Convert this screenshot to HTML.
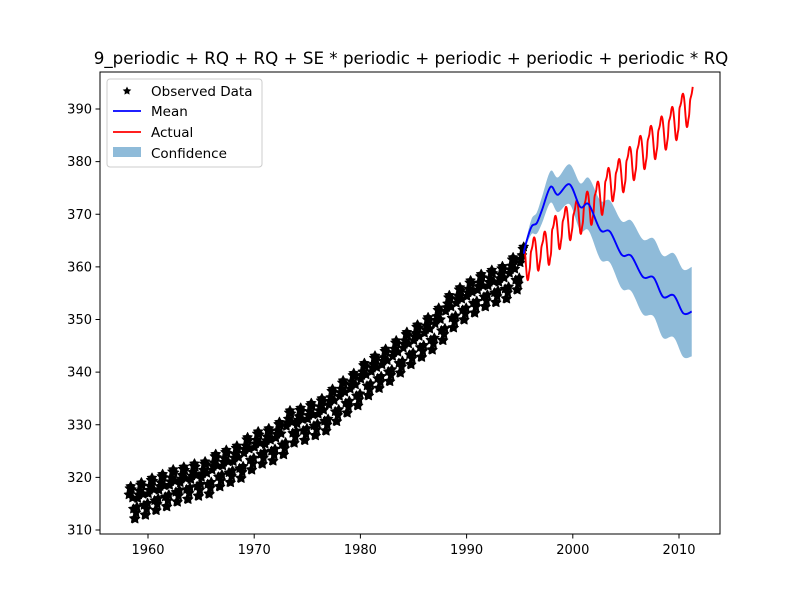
<!DOCTYPE html>
<html><head><meta charset="utf-8"><style>
body{margin:0;background:#fff;}
svg text{font-family:"DejaVu Sans","Liberation Sans",sans-serif;fill:#000;}
</style></head><body>
<svg id="chart" width="800" height="600" viewBox="0 0 800 600">
<rect x="0" y="0" width="800" height="600" fill="#fff"/>
<text x="411" y="64" text-anchor="middle" font-size="16.7">9_periodic + RQ + RQ + SE * periodic + periodic + periodic + periodic * RQ</text>
<g id="marks"></g>
<rect x="100" y="72" width="620" height="462" fill="none" stroke="#000" stroke-width="1"/>
<g id="axes"></g>
<g>
<rect x="107" y="79" width="155" height="88" rx="3" fill="#fff" fill-opacity="0.8" stroke="#ccc"/>
<g><polygon id="legstar" fill="#000"/><text x="151" y="96" font-size="13.5">Observed Data</text></g>
<g><line x1="113" y1="111" x2="141" y2="111" stroke="#0000ff" stroke-width="1.8"/><text x="151" y="116" font-size="13.5">Mean</text></g>
<g><line x1="113" y1="132" x2="141" y2="132" stroke="#ff0000" stroke-width="1.8"/><text x="151" y="137" font-size="13.5">Actual</text></g>
<g><rect x="113" y="147" width="28" height="10" fill="#8fbbd9"/><text x="151" y="158" font-size="13.5">Confidence</text></g>
</g>
</svg>
<script>
const annualYears=[1958,1959,1960,1961,1962,1963,1964,1965,1966,1967,1968,1969,1970,1971,1972,1973,1974,1975,1976,1977,1978,1979,1980,1981,1982,1983,1984,1985,1986,1987,1988,1989,1990,1991,1992,1993,1994,1995,1996,1997,1998,1999,2000,2001,2002,2003,2004,2005,2006,2007,2008,2009,2010,2011];
const annualMeans=[315.3,316.0,316.9,317.6,318.5,319.0,319.6,320.0,321.4,322.2,323.0,324.6,325.7,326.3,327.5,329.7,330.2,331.1,332.0,333.8,335.4,336.8,338.7,340.1,341.4,343.0,344.6,346.0,347.4,349.2,351.6,353.1,354.4,355.6,356.4,357.1,358.8,360.8,362.6,363.7,366.7,368.4,369.6,371.3,373.2,375.8,377.5,379.8,381.9,383.8,385.6,387.4,389.9,391.6];
const seasonal=[0.0,0.7,1.4,2.6,3.0,2.4,0.8,-1.3,-3.1,-3.2,-2.0,-0.9];
const meanYears=[1995.4,1995.5,1996.1,1996.6,1997.1,1997.9,1998.6,1999.7,2000.7,2001.5,2002.6,2003.5,2004.6,2005.5,2006.6,2007.6,2008.5,2009.5,2010.4,2011.2];
const meanValues=[362.5,363.8,367.6,368.3,370.8,375.2,373.7,375.7,371.4,371.9,367.0,366.7,362.3,362.1,358.1,358.0,354.3,354.6,351.2,351.5];
const stdValues=[0,0.3,1.4,2.0,2.5,3.0,3.3,3.8,4.5,5.0,5.6,5.9,6.4,6.7,7.1,7.4,7.8,8.0,8.3,8.5];
const xTicks=[1960,1970,1980,1990,2000,2010];
const yTicks=[310,320,330,340,350,360,370,380,390];

const NS='http://www.w3.org/2000/svg';
const xs=t=>148+(t-1960)*10.62;
const ys=v=>530-(v-310)*5.2625;
function el(tag,attrs,parent){const e=document.createElementNS(NS,tag);for(const k in attrs)e.setAttribute(k,attrs[k]);parent.appendChild(e);return e;}
function starPts(cx,cy,r){let p=[];for(let i=0;i<10;i++){const a=-Math.PI/2+i*Math.PI/5;const rr=i%2?r*0.5:r;p.push((cx+rr*Math.cos(a)).toFixed(1)+','+(cy+rr*Math.sin(a)).toFixed(1));}return p.join(' ');}
function spline(pts){let d='M'+pts[0][0]+','+pts[0][1];for(let i=0;i<pts.length-1;i++){const p0=pts[Math.max(0,i-1)],p1=pts[i],p2=pts[i+1],p3=pts[Math.min(pts.length-1,i+2)];const c1=[p1[0]+(p2[0]-p0[0])/6,p1[1]+(p2[1]-p0[1])/6],c2=[p2[0]-(p3[0]-p1[0])/6,p2[1]-(p3[1]-p1[1])/6];d+=` C${c1[0].toFixed(1)},${c1[1].toFixed(1)} ${c2[0].toFixed(1)},${c2[1].toFixed(1)} ${p2[0].toFixed(1)},${p2[1].toFixed(1)}`;}return d;}
function monthly(fromT,toT){const out=[];annualYears.forEach((y,i)=>{for(let m=0;m<12;m++){const t=y+(m+0.5)/12;if(t>=fromT&&t<=toT)out.push([t,annualMeans[i]+seasonal[m]]);}});return out;}

const marks=document.getElementById('marks');
const up=meanYears.map((t,i)=>[xs(t),ys(meanValues[i]+stdValues[i])]);
const lo=meanYears.map((t,i)=>[xs(t),ys(meanValues[i]-stdValues[i])]).reverse();
const loD=spline(lo);
const bandD=spline(up)+' L'+lo[0][0]+','+lo[0][1]+loD.slice(loD.indexOf(' C'))+' Z';
const band=el('path',{d:bandD,fill:'#1f77b4','fill-opacity':0.5,stroke:'none'},marks);


const obsG=el('g',{fill:'#000',stroke:'#000','stroke-width':0.8,'stroke-linejoin':'round'},marks);


monthly(1958.2,1995.45).forEach(([t,v])=>{const s=el('polygon',{points:starPts(xs(t),ys(v),5)},obsG);

});
const act=monthly(1995.45,2011.35).map(([t,v])=>[xs(t),ys(v)]);
const actual=el('path',{d:spline(act),fill:'none',stroke:'#ff0000','stroke-width':1.9},marks);


const meanP=el('path',{d:spline(meanYears.map((t,i)=>[xs(t),ys(meanValues[i])])),fill:'none',stroke:'#0000ff','stroke-width':1.9},marks);


const axes=document.getElementById('axes');
xTicks.forEach(t=>{const g=el('g',{},axes);


el('line',{x1:xs(t),y1:534,x2:xs(t),y2:538.5,stroke:'#000'},g);const tx=el('text',{x:xs(t),y:554,'text-anchor':'middle','font-size':13},g);tx.textContent=t;});
yTicks.forEach(v=>{const g=el('g',{},axes);


el('line',{x1:95.5,y1:ys(v),x2:100,y2:ys(v),stroke:'#000'},g);const tx=el('text',{x:92,y:ys(v)+4.5,'text-anchor':'end','font-size':13},g);tx.textContent=v;});
document.getElementById('legstar').setAttribute('points',starPts(127,91,4.5));
</script>
</body></html>
